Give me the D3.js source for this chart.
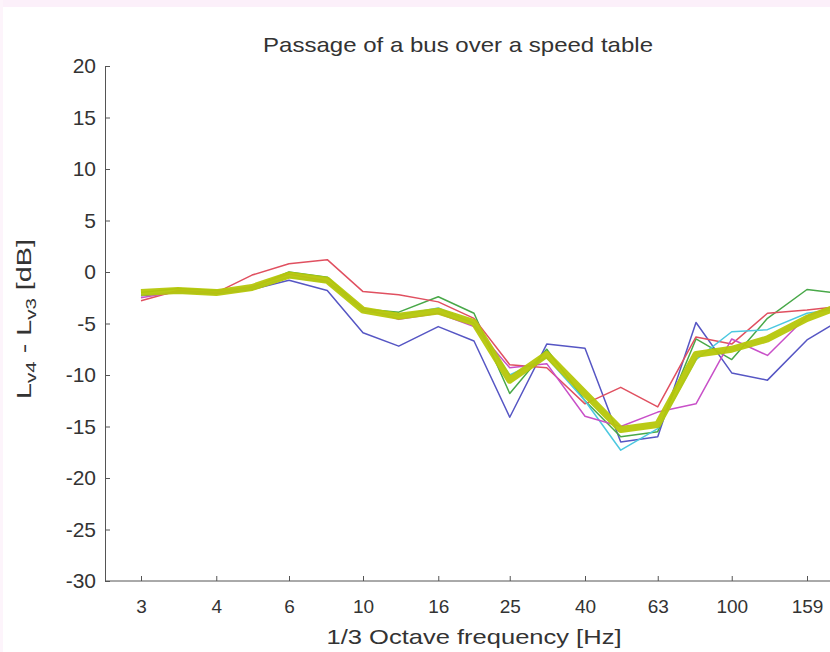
<!DOCTYPE html>
<html>
<head>
<meta charset="utf-8">
<script src="https://cdn.jsdelivr.net/npm/d3@7"></script>
<style>
  body { margin: 0; background: #fff; }
  svg { display: block; font-family: "Liberation Sans", Arial, sans-serif; }
</style>
</head>
<body>
<svg width="830" height="652"></svg>
<script>
// 1/3 octave band centres (Hz)
var bands = [2.5, 3.15, 4, 5, 6.3, 8, 10, 12.5, 16, 20, 25, 31.5, 40, 50, 63, 80, 100, 125, 160, 200];
var tickFreqs = [2.5, 4, 6.3, 10, 16, 25, 40, 63, 100, 160];
var tickLabels = ['3', '4', '6', '10', '16', '25', '40', '63', '100', '159'];
var yTicks = [-30, -25, -20, -15, -10, -5, 0, 5, 10, 15, 20];

// individual passages, Lv4 - Lv3 [dB]
var runBlue    = [-2.3, -2.0, -2.1, -1.7, -0.8, -1.8, -5.9, -7.2, -5.3, -6.7, -14.1, -7.0, -7.4, -16.5, -16.0, -4.9, -9.8, -10.5, -6.6, -4.5];
var runGreen   = [-2.0, -1.6, -1.8, -1.5, 0.0, -0.5, -3.6, -3.9, -2.4, -4.0, -11.8, -7.5, -12.5, -16.0, -15.5, -6.5, -8.5, -4.5, -1.7, -2.1];
var runRed     = [-2.8, -1.8, -2.0, -0.3, 0.8, 1.2, -1.9, -2.2, -2.9, -4.5, -9.0, -9.3, -12.8, -11.2, -13.1, -6.3, -7.0, -4.0, -3.7, -3.3];
var runCyan    = [-2.2, -2.0, -2.0, -1.6, -0.5, -1.0, -3.8, -4.2, -3.5, -5.0, -10.0, -8.3, -12.5, -17.3, -15.2, -8.5, -5.8, -5.6, -4.0, -3.5];
var runMagenta = [-2.5, -1.9, -2.0, -1.4, -0.2, -0.9, -3.5, -4.6, -4.0, -5.3, -9.3, -8.9, -14.0, -15.0, -13.6, -12.8, -6.5, -8.1, -4.3, -3.0];
// average of the passages
var average    = [-2.0, -1.8, -2.0, -1.5, -0.3, -0.8, -3.7, -4.3, -3.8, -4.9, -10.5, -8.0, -11.8, -15.3, -14.8, -8.0, -7.5, -6.5, -4.5, -3.2];

var runs = [runBlue, runGreen, runRed, runCyan, runMagenta];
var runColors = ['#5656c4', '#48a848', '#e05060', '#4cc8e0', '#c850c8'];

var svg = d3.select('svg');
var width = +svg.attr('width'), height = +svg.attr('height');
var plotLeft = 105, plotTop = 66, plotBottom = 581;

// pale frame of the screenshot
svg.append('rect').attr('x', 0).attr('y', 0).attr('width', width).attr('height', 7).attr('fill', '#fcf0fa');
svg.append('rect').attr('x', 0).attr('y', 0).attr('width', 3).attr('height', height).attr('fill', '#fdf4fb');

var xScale = d3.scaleLog()
    .domain([2.5, 160])
    .range([141, 807]);

var yScale = d3.scaleLinear()
    .domain([-30, 20])
    .range([plotBottom, plotTop]);

var line = d3.line()
    .x(function(d, i) { return xScale(bands[i]); })
    .y(function(d) { return yScale(d); });

var plot = svg.append('g');

runs.forEach(function(r, k) {
    plot.append('path')
        .datum(r)
        .attr('d', line)
        .attr('fill', 'none')
        .attr('stroke', runColors[k])
        .attr('stroke-width', 1.5)
        .attr('stroke-linejoin', 'round');
});

plot.append('path')
    .datum(average)
    .attr('d', line)
    .attr('fill', 'none')
    .attr('stroke', '#b6c70a')
    .attr('stroke-width', 7)
    .attr('stroke-linejoin', 'round')
    .attr('opacity', 0.95);

// axes
var xAxis = svg.append('g')
    .attr('transform', 'translate(0,' + plotBottom + ')')
    .call(d3.axisBottom(xScale)
        .tickValues(tickFreqs)
        .tickFormat(function(d, i) { return tickLabels[i]; })
        .tickSizeInner(-5)
        .tickSizeOuter(0)
        .tickPadding(19));
xAxis.select('.domain').remove();
xAxis.append('line').attr('x1', plotLeft).attr('x2', width).attr('stroke', '#555');

var yAxis = svg.append('g')
    .attr('transform', 'translate(' + plotLeft + ',0)')
    .call(d3.axisLeft(yScale)
        .tickValues(yTicks)
        .tickFormat(function(d) { return String(d); })
        .tickSizeInner(-5)
        .tickSizeOuter(0)
        .tickPadding(9));
yAxis.select('.domain').attr('stroke', '#555');

svg.selectAll('.tick line').attr('stroke', '#555');
svg.selectAll('.tick text')
    .attr('font-size', 19)
    .attr('fill', '#333')
    .attr('font-family', '"Liberation Sans", Arial, sans-serif');
yAxis.selectAll('.tick text').attr('font-size', 21);

// title and labels
svg.append('text')
    .attr('x', 458).attr('y', 52)
    .attr('text-anchor', 'middle')
    .attr('font-size', 21)
    .attr('textLength', 390)
    .attr('lengthAdjust', 'spacingAndGlyphs')
    .attr('fill', '#333')
    .text('Passage of a bus over a speed table');

svg.append('text')
    .attr('x', 474).attr('y', 644)
    .attr('text-anchor', 'middle')
    .attr('font-size', 21)
    .attr('textLength', 295)
    .attr('lengthAdjust', 'spacingAndGlyphs')
    .attr('fill', '#333')
    .text('1/3 Octave frequency [Hz]');

var yl = svg.append('text')
    .attr('transform', 'translate(31,319) rotate(-90)')
    .attr('text-anchor', 'middle')
    .attr('font-size', 21)
    .attr('textLength', 160)
    .attr('lengthAdjust', 'spacingAndGlyphs')
    .attr('fill', '#333');
yl.append('tspan').text('L');
yl.append('tspan').attr('font-size', 15).attr('dy', 5).text('v4');
yl.append('tspan').attr('dy', -5).text(' - L');
yl.append('tspan').attr('font-size', 15).attr('dy', 5).text('v3');
yl.append('tspan').attr('dy', -5).text(' [dB]');
</script>
</body>
</html>
